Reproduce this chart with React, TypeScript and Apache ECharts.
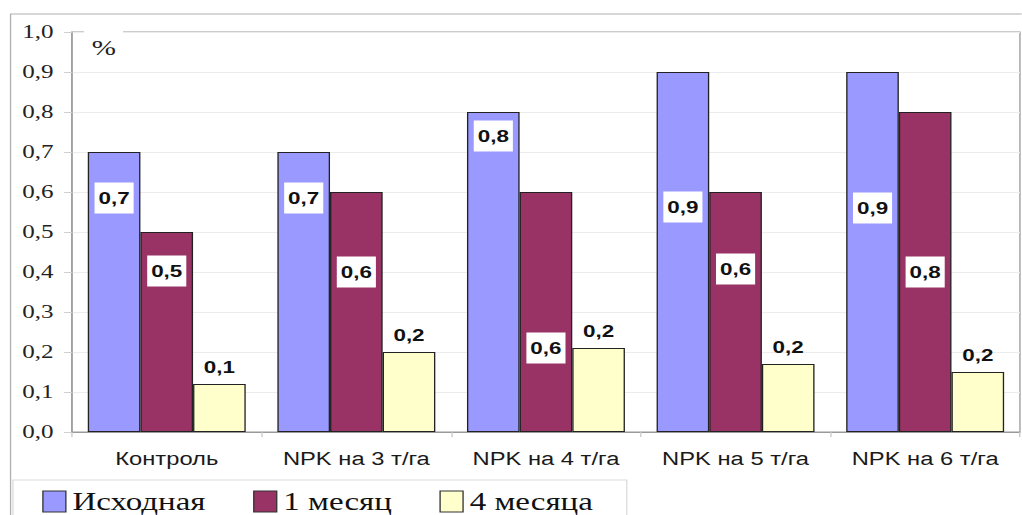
import React, { useEffect, useRef } from "react";
import * as echarts from "echarts";

const categories = ["Контроль", "NPK на 3 т/га", "NPK на 4 т/га", "NPK на 5 т/га", "NPK на 6 т/га"];
const seriesNames = ["Исходная", "1 месяц", "4 месяца"];
const initialValues = [0.7, 0.7, 0.8, 0.9, 0.9];
const month1Values = [0.5, 0.6, 0.6, 0.6, 0.8];
const month4Values = [0.12, 0.2, 0.21, 0.17, 0.15];
const yTicks = { min: 0, max: 1, interval: 0.1 };
const unitLabel = "%";

// styling (label offsets in px from bar top)
const initialLabelDy = [46, 46, 24, 135, 136];
const month1LabelDy = [39, 80, 156, 77, 160];
const colors = ["#9999FF", "#993366", "#FFFFCC"];

const SX = 1.32;
const W = 774;
const H = 515;
const SERIF = "Liberation Serif";
const SANS = "Liberation Sans";

const fmt = (v: number) => (Math.round(v * 10) / 10).toFixed(1).replace(".", ",");

const App: React.FC = () => {
  const ref = useRef<HTMLDivElement>(null);
  useEffect(() => {
    if (!ref.current) return;
    const chart = echarts.init(ref.current, undefined, { renderer: "svg" });
    const valueFont = { fontFamily: SANS, fontSize: 17, fontWeight: "bold" as const, color: "#111" };
    const boxed = (vals: number[], dys: number[]) =>
      vals.map((v, i) => ({
        value: v,
        label: {
          show: true,
          position: ["50%", dys[i]],
          align: "center",
          verticalAlign: "middle",
          backgroundColor: "#fff",
          padding: [7, 3],
          formatter: () => fmt(v),
          ...valueFont,
        },
      }));
    const barCommon = {
      type: "bar" as const,
      barGap: "0%",
      barCategoryGap: "16.7%",
    };
    chart.setOption({
      animation: false,
      backgroundColor: "#fff",
      grid: { left: 54.5, right: 1.3, top: 32, bottom: 83, show: true, borderColor: "#9a9a9a", borderWidth: 1 },
      legend: {
        left: 27,
        top: 484,
        icon: "rect",
        itemWidth: 17.4,
        itemHeight: 21,
        itemGap: 36,
        data: seriesNames,
        textStyle: { fontFamily: SERIF, fontSize: 25, lineHeight: 24, color: "#111" },
        itemStyle: { borderColor: "#333", borderWidth: 1 },
      },
      xAxis: {
        type: "category",
        data: categories,
        axisLine: { lineStyle: { color: "#9a9a9a" } },
        axisTick: { show: true, length: 5, lineStyle: { color: "#c8c8c8" } },
        axisLabel: { interval: 0, margin: 18, fontFamily: SANS, fontSize: 18, color: "#1a1a1a" },
      },
      yAxis: {
        type: "value",
        min: yTicks.min,
        max: yTicks.max,
        interval: yTicks.interval,
        axisLine: { show: true, lineStyle: { color: "#9a9a9a" } },
        axisTick: { show: true, length: 6, lineStyle: { color: "#d0d0d0" } },
        splitLine: { lineStyle: { color: "#ececec" } },
        axisLabel: {
          margin: 14,
          fontFamily: SERIF,
          fontSize: 19,
          color: "#222",
          formatter: (v: number) => fmt(v),
        },
      },
      series: [
        { ...barCommon, name: seriesNames[0], data: boxed(initialValues, initialLabelDy), itemStyle: { color: colors[0], borderColor: "#222", borderWidth: 1 } },
        { ...barCommon, name: seriesNames[1], data: boxed(month1Values, month1LabelDy), itemStyle: { color: colors[1], borderColor: "#222", borderWidth: 1 } },
        {
          ...barCommon,
          name: seriesNames[2],
          data: month4Values,
          itemStyle: { color: colors[2], borderColor: "#222", borderWidth: 1 },
          label: { show: true, position: "top", distance: 8, formatter: (p: any) => fmt(p.value), ...valueFont },
        },
      ],
      graphic: [
        { type: "rect", z: 100, silent: true, shape: { x: 8, y: 14, width: 900, height: 600 }, style: { fill: "none", stroke: "#b0b0b0", lineWidth: 1 } },
        { type: "rect", z: 100, silent: true, shape: { x: 9.8, y: 480, width: 465, height: 80 }, style: { fill: "none", stroke: "#dcdcdc", lineWidth: 1 } },
        { type: "rect", z: 100, silent: true, shape: { x: 63.6, y: 29, width: 29.6, height: 6 }, style: { fill: "#fff" } },
        {
          type: "text",
          z: 101,
          x: 69.5,
          y: 48,
          style: { text: unitLabel, fontFamily: SERIF, fontSize: 22, fill: "#222", verticalAlign: "middle" },
        },
      ],
    });
    return () => chart.dispose();
  }, []);
  return (
    <div style={{ position: "absolute", left: 0, top: 0, width: 1022, height: 515, overflow: "hidden", background: "#fff" }}>
      <div ref={ref} style={{ width: W, height: H, transform: `scaleX(${SX})`, transformOrigin: "0 0" }} />
    </div>
  );
};

export default App;
